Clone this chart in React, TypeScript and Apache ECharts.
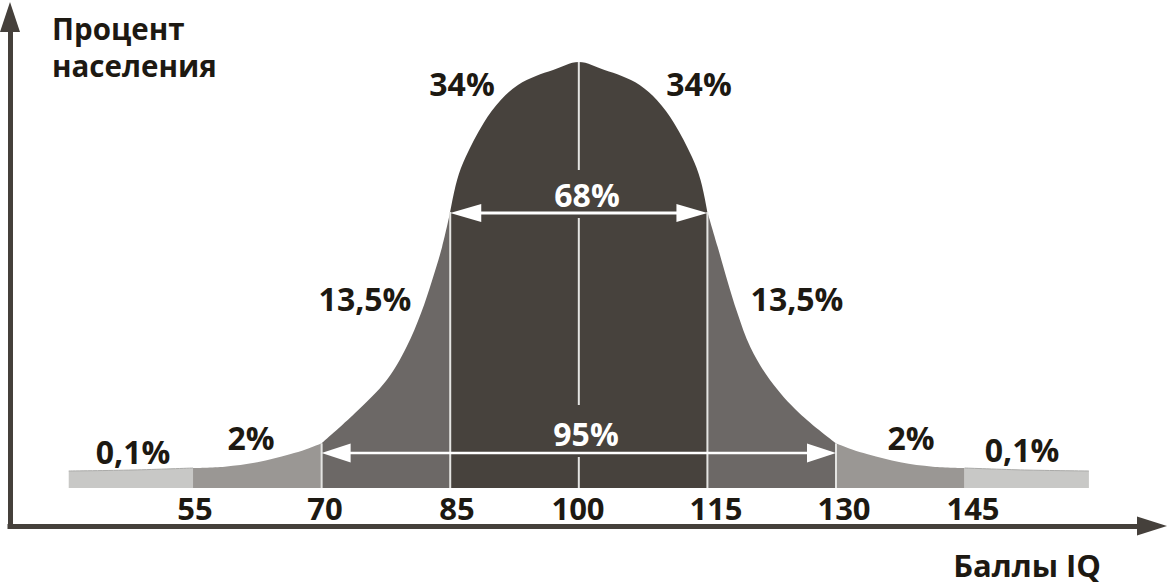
import React, { useEffect, useRef } from "react";
import * as echarts from "echarts";

// IQ score tick labels
const scoreTicks = ["55", "70", "85", "100", "115", "130", "145"];
const tickLabelX = [195, 325, 457, 578, 716, 844, 973];

// curve segments: [IQ, height above axis]
const curveFarLeft = [[40.5, 55], [48, 56], [55, 58]];
const curveLeft2 = [[55, 58], [58.7, 59.3], [62.5, 63.7], [66.3, 71.7], [68.2, 76.7], [70, 82.7]];
const curveLeft13 = [[70, 82.7], [73.9, 113], [77.6, 146], [79.9, 179], [81.6, 213], [82.9, 246], [84.05, 279], [85, 314]];
const curveCenter = [[85, 314], [85.8, 346], [86.8, 369], [88.9, 403], [90.9, 426], [92.9, 441], [95, 450], [97, 456], [100, 464], [103, 456], [105, 450], [107.1, 441], [109.1, 426], [111.1, 403], [113.2, 369], [114.2, 346], [115, 314]];
const curveRight13 = [[115, 314], [116.2, 279], [117.3, 246], [118.5, 213], [120, 179], [122.3, 146], [125.7, 113], [130, 82.7]];
const curveRight2 = [[130, 82.7], [131.8, 76.7], [133.7, 71.7], [137.5, 63.7], [141.3, 59.3], [145, 58]];
const curveFarRight = [[145, 58], [152, 56], [159.5, 55]];
const baseLevel = 38;

// white dividers: [IQ, from height, to height]
const dividers = [[70, 38, 82.7], [85, 38, 314], [100, 38, 69], [100, 121, 308], [100, 356, 464], [115, 38, 314], [130, 38, 82.7]];
// double arrows: [from IQ, to IQ, height]
const arrows = [[85, 115, 313], [70, 130, 73]];

// share labels: text, x, y, colour
const shareLabels: [string, number, number, string][] = [
  ["34%", 462, 83, "#1d1912"],
  ["34%", 699, 83, "#1d1912"],
  ["68%", 587, 194, "#ffffff"],
  ["13,5%", 365, 298, "#1d1912"],
  ["13,5%", 797, 298, "#1d1912"],
  ["95%", 586, 433, "#ffffff"],
  ["2%", 251, 437, "#1d1912"],
  ["2%", 911, 437, "#1d1912"],
  ["0,1%", 133, 451, "#1d1912"],
  ["0,1%", 1022, 449, "#1d1912"],
];

const FONT = '"Open Sans", "Noto Sans", sans-serif';

function areaSeries(data: number[][], color: string, edge?: string) {
  return {
    type: "line",
    data,
    smooth: 0.35,
    showSymbol: false,
    symbol: "none",
    lineStyle: edge ? { color: edge, width: 1 } : { width: 0, opacity: 0 },
    areaStyle: { color, opacity: 1, origin: baseLevel },
    silent: true,
    z: 2,
  };
}

export default function App() {
  const ref = useRef<HTMLDivElement>(null);
  useEffect(() => {
    const chart = echarts.init(ref.current!, null, { renderer: "svg" });
    const graphics: any[] = [];
    shareLabels.forEach(([t, x, y, c]) => {
      graphics.push({
        type: "text", x, y, z: 100,
        style: { text: t, fill: c, fontFamily: FONT, fontWeight: "bold", fontSize: 32, textAlign: "center", textVerticalAlign: "middle" },
      });
    });
    scoreTicks.forEach((t, i) => {
      graphics.push({
        type: "text", x: tickLabelX[i], y: 508, z: 100,
        style: { text: t, fill: "#1d1912", fontFamily: FONT, fontWeight: "bold", fontSize: 31, textAlign: "center", textVerticalAlign: "middle" },
      });
    });
    graphics.push({
      type: "text", x: 52, y: 28, z: 100,
      style: { text: "Процент", fill: "#1d1912", fontFamily: FONT, fontWeight: "bold", fontSize: 29.5, textAlign: "left", textVerticalAlign: "middle" },
    });
    graphics.push({
      type: "text", x: 52, y: 65, z: 100,
      style: { text: "населения", fill: "#1d1912", fontFamily: FONT, fontWeight: "bold", fontSize: 29.5, textAlign: "left", textVerticalAlign: "middle" },
    });
    graphics.push({
      type: "text", x: 1101, y: 565, z: 100,
      style: { text: "Баллы IQ", fill: "#1d1912", fontFamily: FONT, fontWeight: "bold", fontSize: 31, textAlign: "right", textVerticalAlign: "middle" },
    });

    chart.setOption({
      animation: false,
      backgroundColor: "#ffffff",
      grid: { left: 10, right: 19, top: 17, bottom: 60, containLabel: false },
      xAxis: {
        type: "value", min: 33.65, max: 166.86,
        axisLine: { show: true, onZero: false, symbol: ["none", "triangle"], symbolSize: [19, 30], lineStyle: { color: "#45403b", width: 5, cap: "square" } },
        axisTick: { show: false }, axisLabel: { show: false }, splitLine: { show: false },
      },
      yAxis: {
        type: "value", min: 0, max: 509,
        axisLine: { show: true, onZero: false, symbol: ["none", "triangle"], symbolSize: [20, 30], lineStyle: { color: "#45403b", width: 5, cap: "square" } },
        axisTick: { show: false }, axisLabel: { show: false }, splitLine: { show: false },
      },
      series: [
        areaSeries(curveFarLeft, "#c8c8c6", "#aaaaa8"),
        areaSeries(curveLeft2, "#9a9794"),
        areaSeries(curveLeft13, "#6c6866"),
        areaSeries(curveCenter, "#47423d"),
        areaSeries(curveRight13, "#6c6866"),
        areaSeries(curveRight2, "#9a9794"),
        areaSeries(curveFarRight, "#c8c8c6", "#aaaaa8"),
        {
          type: "custom",
          data: dividers,
          encode: { x: 0, y: [1, 2] },
          silent: true,
          z: 5,
          renderItem: (_p: any, api: any) => {
            const a = api.coord([api.value(0), api.value(1)]);
            const b = api.coord([api.value(0), api.value(2)]);
            return { type: "line", shape: { x1: a[0], y1: a[1], x2: b[0], y2: b[1] }, style: { stroke: "#e4e4e2", lineWidth: 2 } };
          },
        },
        {
          type: "custom",
          data: arrows,
          encode: { x: [0, 1], y: 2 },
          silent: true,
          z: 6,
          renderItem: (p: any, api: any) => {
            const a = api.coord([api.value(0), api.value(2)]);
            const b = api.coord([api.value(1), api.value(2)]);
            const big = p.dataIndex === 0;
            const L = big ? 31 : 29;
            const H = big ? 9 : 9.5;
            const lw = big ? 3.2 : 2.6;
            return {
              type: "group",
              children: [
                { type: "line", shape: { x1: a[0] + L - 2, y1: a[1], x2: b[0] - L + 2, y2: b[1] }, style: { stroke: "#ffffff", lineWidth: lw } },
                { type: "polygon", shape: { points: [[a[0], a[1]], [a[0] + L, a[1] - H], [a[0] + L, a[1] + H]] }, style: { fill: "#ffffff" } },
                { type: "polygon", shape: { points: [[b[0], b[1]], [b[0] - L, b[1] - H], [b[0] - L, b[1] + H]] }, style: { fill: "#ffffff" } },
              ],
            };
          },
        },
      ],
      graphic: graphics,
    });
    return () => chart.dispose();
  }, []);
  return <div ref={ref} style={{ position: "fixed", left: 0, top: 0, width: 1171, height: 586, background: "#fff" }} />;
}
